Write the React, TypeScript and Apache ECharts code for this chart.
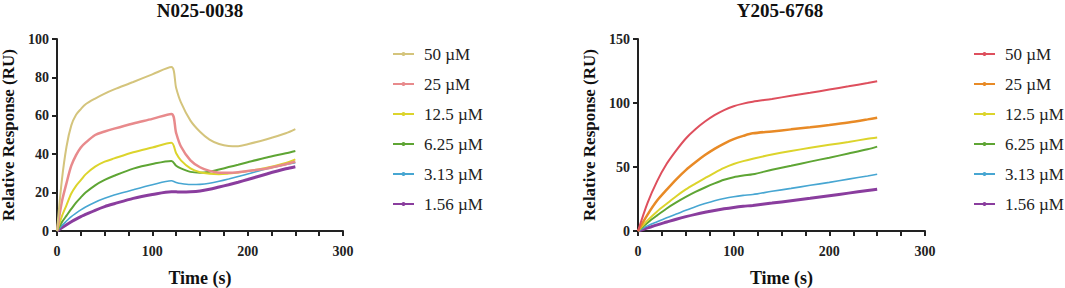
import React, { useEffect, useRef } from "react";
import * as echarts from "echarts";

// ---------- data ----------
const leftTitle = "N025-0038";
const rightTitle = "Y205-6768";
const seriesNames = ["50 µM", "25 µM", "12.5 µM", "6.25 µM", "3.13 µM", "1.56 µM"];

const leftTime = [0, 5, 10, 15, 20, 25, 30, 40, 50, 60, 80, 100, 120, 125, 130, 140, 150, 160, 170, 180, 190, 200, 220, 240, 250];
const left50 = [0, 26, 44, 55, 60.5, 63.5, 66, 69, 71.6, 73.8, 77.6, 81.6, 85.4, 74.5, 67, 57.5, 51.7, 47.6, 45.3, 44.3, 44.2, 45.2, 47.8, 50.9, 53.1];
const left25 = [0, 15, 25, 34, 39.5, 43.5, 46, 50, 51.8, 53.3, 56, 58.4, 61, 51, 44, 36.8, 33.2, 31.3, 30.4, 30.3, 30.6, 31.2, 32.6, 34.8, 36.1];
const left12 = [0, 7.5, 13.5, 19.5, 23.5, 26.5, 29.5, 33.5, 36.1, 37.8, 41, 43.5, 46, 40.5, 36.8, 32.6, 30.6, 29.8, 29.6, 29.9, 30.4, 31.2, 33, 35.5, 37.3];
const left6 = [0, 4.5, 8, 11.5, 14.8, 17.5, 20, 23.8, 26.6, 28.8, 32.5, 34.9, 36.5, 34, 32.6, 30.8, 30.4, 30.9, 32, 33.3, 34.5, 35.8, 38.3, 40.5, 41.7];
const left3 = [0, 2.8, 5.2, 7.5, 9.3, 11, 12.5, 15, 17, 18.7, 21.5, 24.1, 26.2, 25.3, 24.7, 24.2, 24.3, 24.9, 25.9, 27.1, 28.4, 29.7, 32.5, 34.6, 35.6];
const left1 = [0, 1.7, 3.3, 4.8, 6.2, 7.5, 8.6, 10.8, 12.7, 14.2, 17, 19, 20.5, 20.4, 20.3, 20.4, 20.8, 21.7, 22.9, 24.1, 25.4, 26.8, 29.7, 32.4, 33.5];

const rightTime = [0, 10, 20, 30, 40, 50, 60, 70, 80, 90, 100, 110, 120, 140, 160, 180, 200, 220, 240, 250];
const right50 = [0, 22, 39, 52.5, 63, 72.3, 79.5, 85.5, 90.5, 94.5, 97.5, 99.5, 101, 103.2, 105.6, 108, 110.5, 113, 115.6, 117];
const right25 = [0, 12.8, 23.8, 32.3, 40.4, 47.6, 53.7, 59.3, 64.2, 68.3, 71.8, 74.3, 76.3, 77.8, 79.4, 81, 82.8, 84.8, 87.2, 88.5];
const right12 = [0, 8.3, 15.3, 21.3, 27.2, 32.5, 37, 41.3, 45.5, 49.3, 52.3, 54.6, 56.5, 59.7, 62.5, 65, 67.3, 69.6, 72, 73];
const right6 = [0, 6.5, 12.2, 17.6, 22.3, 26.6, 30.5, 34, 37.2, 40, 42, 43.3, 44.3, 47.8, 51, 54.2, 57.3, 60.5, 63.8, 65.9];
const right3 = [0, 4, 7.2, 10.3, 13.2, 16.2, 19, 21.4, 23.6, 25.4, 26.8, 27.8, 28.5, 31, 33.3, 35.7, 38, 40.5, 43, 44.3];
const right1 = [0, 2.4, 4.8, 7, 9.2, 11.2, 13, 14.6, 16, 17.3, 18.4, 19.3, 20, 21.8, 23.7, 25.6, 27.6, 29.6, 31.6, 32.6];

const leftColors = ["#d4c47c", "#e88a8c", "#dcd42c", "#5ea534", "#47a6d2", "#8a3d9e"];
const rightColors = ["#de4f5d", "#e88a26", "#dcd42c", "#5ea534", "#47a6d2", "#8a3d9e"];
const lineWidths = [2, 2.5, 2, 2, 1.6, 3];

const FONT = "Liberation Serif";

function buildOption(
  title: string,
  time: number[],
  values: number[][],
  colors: string[],
  yMax: number,
  yInterval: number,
  grid: { left: number; right: number; top: number; bottom: number },
  titleX: number,
  legendX: number,
  smooth: number
) {
  return {
    animation: false,
    textStyle: { fontFamily: FONT },
    title: {
      text: title,
      left: titleX,
      top: 1,
      padding: 0,
      textAlign: "center",
      textStyle: { fontFamily: FONT, fontWeight: "bold", fontSize: 19, color: "#111" },
    },
    legend: {
      orient: "vertical",
      left: legendX,
      top: 40,
      itemWidth: 21,
      itemHeight: 5,
      itemGap: 12,
      data: seriesNames,
      textStyle: { fontFamily: FONT, fontSize: 17, color: "#222", padding: [0, 0, 0, 5], lineHeight: 18 },
    },
    grid: { ...grid, containLabel: false, outerBoundsMode: "none" },
    xAxis: {
      type: "value",
      min: 0,
      max: 300,
      interval: 25,
      name: "Time (s)",
      nameLocation: "middle",
      nameGap: 38,
      nameTextStyle: { fontFamily: FONT, fontWeight: "bold", fontSize: 18, color: "#111" },
      axisLine: { lineStyle: { color: "#222", width: 2 } },
      axisTick: { length: 5, lineStyle: { color: "#222", width: 2 } },
      axisLabel: {
        fontFamily: FONT,
        fontWeight: "bold",
        fontSize: 14,
        color: "#222",
        margin: 13,
        formatter: (v: number) => (v % 100 === 0 ? String(v) : ""),
      },
      splitLine: { show: false },
    },
    yAxis: {
      type: "value",
      min: 0,
      max: yMax,
      interval: yInterval,
      name: "Relative Response (RU)",
      nameLocation: "middle",
      nameGap: 40,
      nameTextStyle: { fontFamily: FONT, fontWeight: "bold", fontSize: 17, color: "#111" },
      axisLine: { show: true, lineStyle: { color: "#222", width: 2 } },
      axisTick: { show: true, length: 5, lineStyle: { color: "#222", width: 2 } },
      axisLabel: { fontFamily: FONT, fontWeight: "bold", fontSize: 14, color: "#222", margin: 8 },
      splitLine: { show: false },
    },
    series: values.map((vals, i) => ({
      name: seriesNames[i],
      type: "line",
      smooth,
      symbol: "circle",
      symbolSize: 3,
      showSymbol: false,
      color: colors[i],
      lineStyle: { width: lineWidths[i], color: colors[i] },
      data: time.map((t, j) => [t, vals[j]]),
      z: 10 - i,
    })),
  };
}

function Chart({ option, style }: { option: any; style: React.CSSProperties }) {
  const ref = useRef<HTMLDivElement>(null);
  useEffect(() => {
    if (!ref.current) return;
    const chart = echarts.init(ref.current, undefined, { renderer: "svg" });
    chart.setOption(option);
    return () => chart.dispose();
  }, []);
  return <div ref={ref} style={style} />;
}

export default function App() {
  const leftOpt = buildOption(
    leftTitle,
    leftTime,
    [left50, left25, left12, left6, left3, left1],
    leftColors,
    100,
    20,
    { left: 57, right: 189, top: 39, bottom: 57 },
    200,
    387,
    0.3
  );
  const rightOpt = buildOption(
    rightTitle,
    rightTime,
    [right50, right25, right12, right6, right3, right1],
    rightColors,
    150,
    50,
    { left: 106, right: 140, top: 39, bottom: 57 },
    248,
    436,
    0.3
  );
  return (
    <div style={{ position: "absolute", left: 0, top: 0, width: 1065, height: 288, background: "#fff" }}>
      <Chart option={leftOpt} style={{ position: "absolute", left: 0, top: 0, width: 532, height: 288 }} />
      <Chart option={rightOpt} style={{ position: "absolute", left: 532, top: 0, width: 533, height: 288 }} />
    </div>
  );
}
